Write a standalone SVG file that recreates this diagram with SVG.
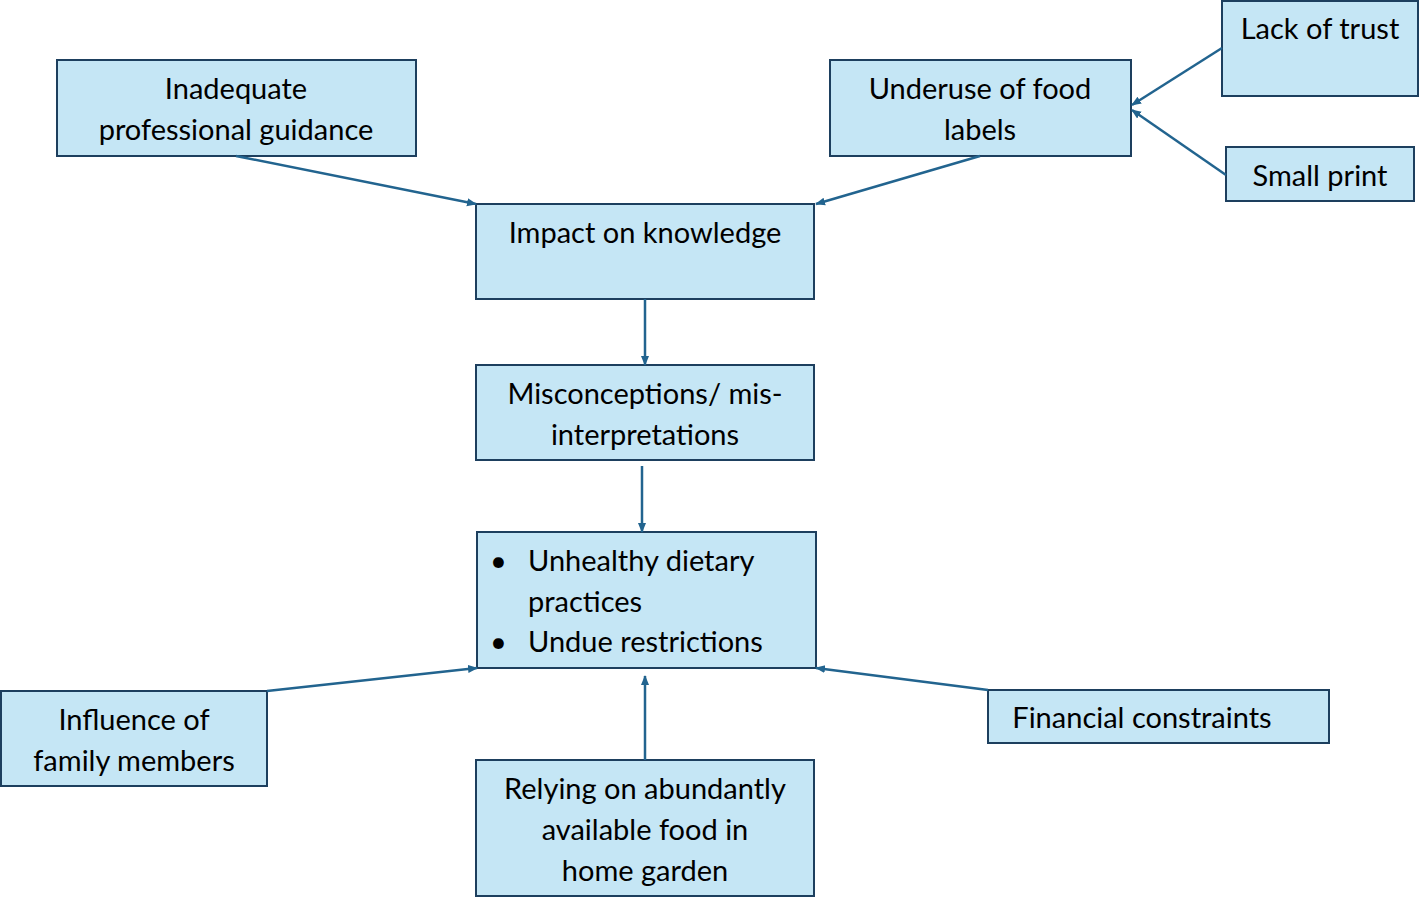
<svg xmlns="http://www.w3.org/2000/svg" width="1419" height="898" viewBox="0 0 1419 898">
<style>
.b{fill:#c5e6f5;stroke:#1d3f5e;stroke-width:2}
text{font-family:Lato,"Liberation Sans",sans-serif;font-size:29px;fill:#000}
.c{text-anchor:middle}
.k{stroke:#22648f;stroke-width:2.5;fill:none;marker-end:url(#a)}
</style>
<defs><marker id="a" markerWidth="10" markerHeight="10" refX="9" refY="5" orient="auto" markerUnits="userSpaceOnUse"><path d="M0,1 L10,5 L0,9 z" fill="#22648f"/></marker></defs>
<rect width="1419" height="898" fill="#fff"/>
<g id="n1"><rect class="b" x="57" y="60" width="359" height="96"/><text class="c" x="236" y="99">Inadequate</text><text class="c" x="236" y="140">professional guidance</text></g>
<g id="n2"><rect class="b" x="830" y="60" width="301" height="96"/><text class="c" x="980" y="99">Underuse of food</text><text class="c" x="980" y="140">labels</text></g>
<g id="n3"><rect class="b" x="1222" y="1" width="196" height="95"/><text class="c" x="1320" y="39">Lack of trust</text></g>
<g id="n4"><rect class="b" x="1226" y="147" width="188" height="54"/><text class="c" x="1320" y="186">Small print</text></g>
<g id="n5"><rect class="b" x="476" y="204" width="338" height="95"/><text class="c" x="645" y="243">Impact on knowledge</text></g>
<g id="n6"><rect class="b" x="476" y="365" width="338" height="95"/><text class="c" x="645" y="404">Misconceptions/ mis-</text><text class="c" x="645" y="445">interpretations</text></g>
<g id="n7"><rect class="b" x="477" y="532" width="339" height="136"/><text x="490" y="571">•</text><text x="528" y="571">Unhealthy dietary</text><text x="528" y="612">practices</text><text x="490" y="652">•</text><text x="528" y="652">Undue restrictions</text></g>
<g id="n8"><rect class="b" x="1" y="691" width="266" height="95"/><text class="c" x="134" y="730">Influence of</text><text class="c" x="134" y="771">family members</text></g>
<g id="n9"><rect class="b" x="988" y="690" width="341" height="53"/><text class="c" x="1142" y="728">Financial constraints</text></g>
<g id="n10"><rect class="b" x="476" y="760" width="338" height="136"/><text class="c" x="645" y="799">Relying on abundantly</text><text class="c" x="645" y="840">available food in</text><text class="c" x="645" y="881">home garden</text></g>
<g id="connectors">
<line class="k" x1="236" y1="156" x2="476" y2="204"/>
<line class="k" x1="980" y1="156" x2="816" y2="204"/>
<line class="k" x1="1222" y1="48" x2="1132" y2="105"/>
<line class="k" x1="1226" y1="175" x2="1132" y2="110"/>
<line class="k" x1="645" y1="299" x2="645" y2="365"/>
<line class="k" x1="642" y1="466" x2="642" y2="532"/>
<line class="k" x1="267" y1="691" x2="477" y2="668"/>
<line class="k" x1="988" y1="690" x2="816" y2="668"/>
<line class="k" x1="645" y1="760" x2="645" y2="676"/>
</g>
</svg>
